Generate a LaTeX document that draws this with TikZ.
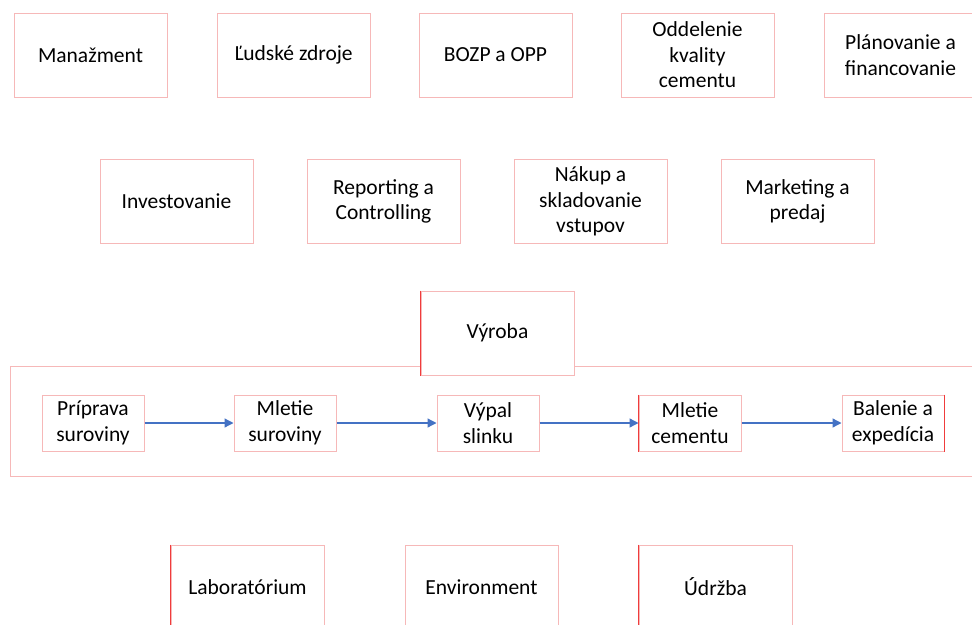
\documentclass[tikz,border=0pt]{standalone}
\usepackage{fontspec}
\setmainfont{Carlito}
\usetikzlibrary{arrows.meta}
\definecolor{pinkline}{HTML}{F6B8B8}
\definecolor{redline}{HTML}{F03C3C}
\definecolor{flowblue}{HTML}{4472C4}
\begin{document}
\begin{tikzpicture}[x=1pt,y=-1pt]
\fontsize{21.5}{25.5}\selectfont
\tikzset{
    dept/.style={draw=pinkline, line width=1pt, fill=white, minimum width=153pt, minimum height=84pt, align=center, inner sep=0pt},
    proc/.style={draw=pinkline, line width=1pt, fill=white, minimum width=102pt, minimum height=56pt, align=center, inner sep=0pt},
    flow/.style={draw=flowblue, line width=1.3pt, -{Triangle[length=9pt,width=9pt]}},
    redge/.style={draw=redline, line width=1.2pt},
}
\useasboundingbox (0,0) rectangle (972,624);
\clip (0,0) rectangle (972,624);

% Support departments, top rows.
\node[dept] (manaz) at (90.5,55)  {Manažment};
\node[dept] (ludia) at (293.5,55) {Ľudské zdroje};
\node[dept] (bozp)  at (495.5,55) {BOZP a OPP};
\node[dept] (kval)  at (697.5,55) {Oddelenie\\kvality\\cementu};
\node[dept] (plan)  at (900.5,55) {Plánovanie a\\financovanie};

\node[dept] (invest) at (176.5,201.5) {Investovanie};
\node[dept] (report) at (383.5,201.5) {Reporting a\\Controlling};
\node[dept] (nakup)  at (590.5,201.5) {Nákup a\\skladovanie\\vstupov};
\node[dept] (market) at (797.5,201.5) {Marketing a\\predaj};

% Production frame first, the Výroba box sits on its top edge.
\draw[pinkline, line width=1pt] (10,366) rectangle (990,476);
\node[dept] (vyroba) at (497.5,333) {Výroba};

% Process chain.
\node[proc] (priprava) at (93,423)  {Príprava\\suroviny};
\node[proc] (mletsur)  at (285,423) {Mletie\\suroviny};
\node[proc] (vypal)    at (488,423) {Výpal\\slinku};
\node[proc] (mletcem)  at (690,423) {Mletie\\cementu};
\node[proc] (balenie)  at (893,423) {Balenie a\\expedícia};

\draw[flow] (priprava) -- (mletsur);
\draw[flow] (mletsur) -- (vypal);
\draw[flow] (vypal) -- (mletcem);
\draw[flow] (mletcem) -- (balenie);

% Bottom row.
\node[dept] (lab)  at (247.5,587) {Laboratórium};
\node[dept] (env)  at (481.5,587) {Environment};
\node[dept] (udrz) at (715.5,587) {Údržba};

% Darker red edges.
\draw[redge] (vyroba.north west) -- (vyroba.south west);
\draw[redge] (lab.north west) -- (lab.south west);
\draw[redge] (udrz.north west) -- (udrz.south west);
\draw[redge] (mletcem.north west) -- (mletcem.south west);
\draw[redge] (balenie.north east) -- (balenie.south east);
\end{tikzpicture}
\end{document}
